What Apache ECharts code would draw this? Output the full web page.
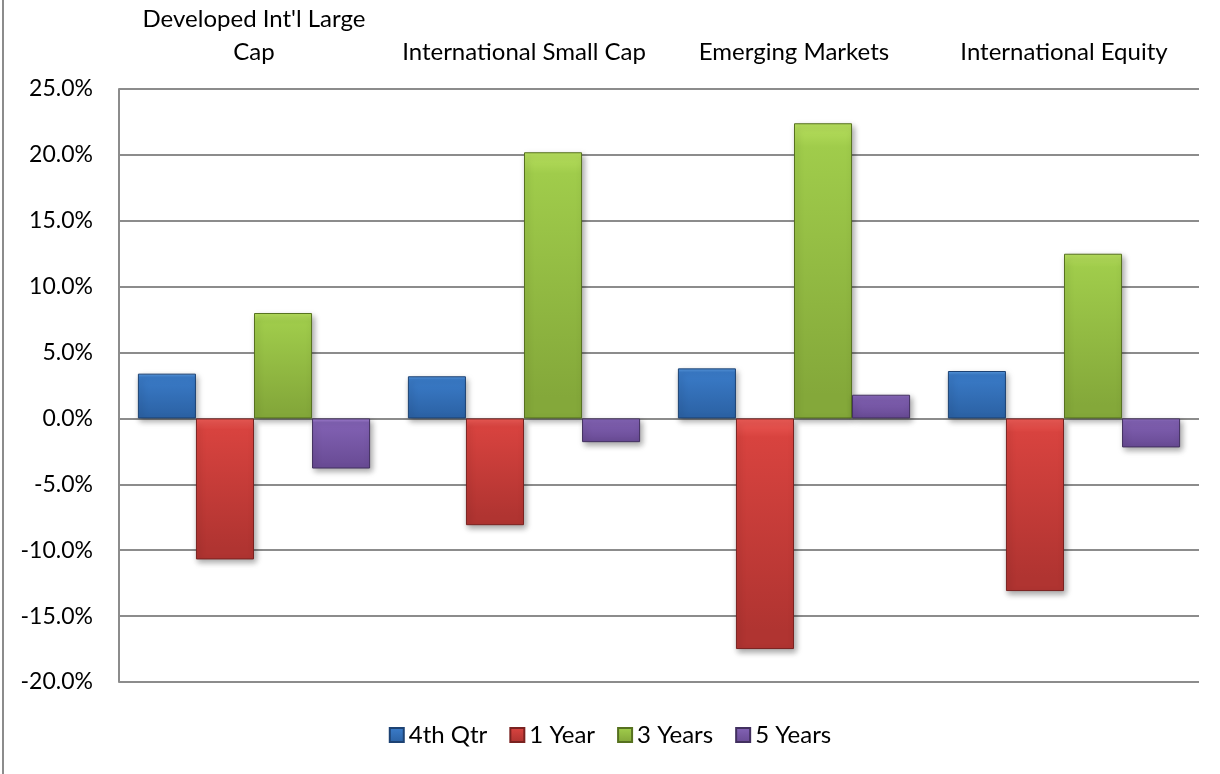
<!DOCTYPE html>
<html>
<head>
<meta charset="utf-8">
<script src="https://cdn.jsdelivr.net/npm/echarts@6/dist/echarts.min.js"></script>
<style>
  html, body { margin: 0; padding: 0; background: #fff; }
  #chart { width: 1220px; height: 774px; }
</style>
</head>
<body>
<div id="chart"></div>
<script>
// categories shown along the top
const categories = [
  "Developed Int'l Large\nCap",
  'International Small Cap',
  'Emerging Markets',
  'International Equity'
]
// returns in percent
const qtr4 = [3.4, 3.2, 3.8, 3.6]
const year1 = [-10.7, -8.1, -17.5, -13.1]
const year3 = [8.0, 20.2, 22.4, 12.5]
const year5 = [-3.8, -1.8, 1.8, -2.2]
const yTicks = { min: -20, max: 25, step: 5 }

const font = 'Lato, "Open Sans", sans-serif'

// light top -> dark bottom, a rough stand-in for the bevel look
function bevel(light, mid, dark) {
  return new echarts.graphic.LinearGradient(0, 0, 0, 1, [
    { offset: 0, color: light },
    { offset: 0.08, color: mid },
    { offset: 0.92, color: dark },
    { offset: 1, color: dark }
  ])
}

const seriesDefs = [
  { name: '4th Qtr', data: qtr4, fill: bevel('#5a9be0', '#3a7bc8', '#2c63a6'), edge: '#1d4273' },
  { name: '1 Year', data: year1, fill: bevel('#ef5c57', '#d8433f', '#b03431'), edge: '#7a2220' },
  { name: '3 Years', data: year3, fill: bevel('#b8e05e', '#a0cc4b', '#84a83a'), edge: '#56711f' },
  { name: '5 Years', data: year5, fill: bevel('#a583d6', '#8262b4', '#6a4c96'), edge: '#42305f' }
]

const chart = echarts.init(document.getElementById('chart'))
const option = {
  animation: false,
  grid: { left: 119, right: 21, top: 89, bottom: 92 },
  legend: {
    bottom: 22,
    itemWidth: 14,
    itemHeight: 14,
    itemGap: 22,
    icon: 'rect',
    textStyle: { fontFamily: font, fontSize: 24, color: '#000' },
    data: seriesDefs.map(s => s.name)
  },
  xAxis: {
    type: 'category',
    position: 'top',
    data: categories,
    axisLine: { show: false, onZero: false },
    axisTick: { show: false },
    axisLabel: {
      interval: 0,
      margin: 20,
      fontFamily: font,
      fontSize: 24,
      color: '#000',
      lineHeight: 33,
      align: 'center'
    }
  },
  yAxis: {
    type: 'value',
    min: yTicks.min,
    max: yTicks.max,
    interval: yTicks.step,
    axisLine: { show: true, lineStyle: { color: '#8c8c8c', width: 2 } },
    axisTick: { show: false },
    splitLine: { lineStyle: { color: '#8c8c8c', width: 2 } },
    axisLabel: {
      margin: 26,
      fontFamily: font,
      fontSize: 23,
      color: '#000',
      formatter: v => v.toFixed(1) + '%'
    }
  },
  series: seriesDefs.map(s => ({
    name: s.name,
    type: 'bar',
    data: s.data,
    barGap: '0%',
    barCategoryGap: '14%',
    itemStyle: {
      color: s.fill,
      borderColor: s.edge,
      borderWidth: 1,
      shadowColor: 'rgba(0,0,0,0.35)',
      shadowBlur: 6,
      shadowOffsetX: 2,
      shadowOffsetY: 3
    }
  })),
  graphic: [
    {
      type: 'line',
      shape: { x1: 3, y1: 0, x2: 3, y2: 774 },
      style: { stroke: '#8c8c8c', lineWidth: 2 }
    }
  ]
}
chart.setOption(option)
</script>
</body>
</html>
